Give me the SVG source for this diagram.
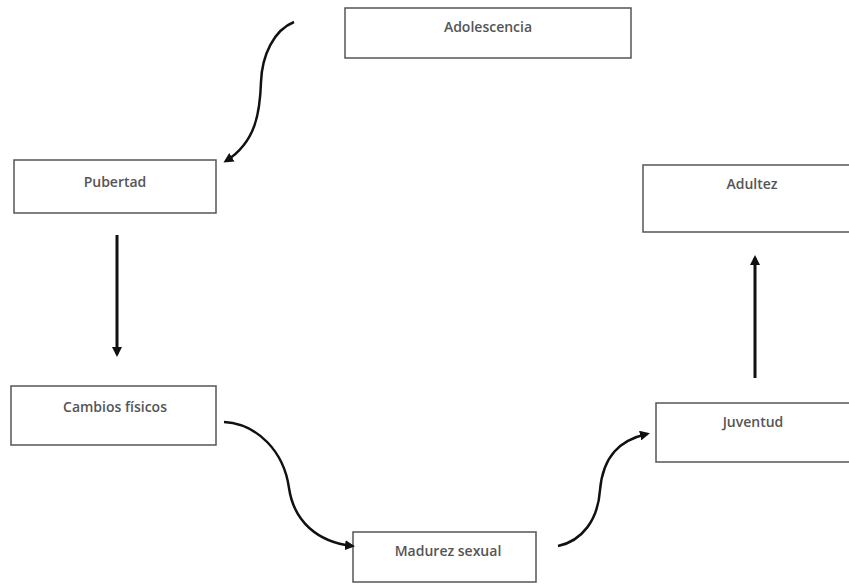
<svg xmlns="http://www.w3.org/2000/svg" width="849" height="584" viewBox="0 0 849 584">
<style>
.box{fill:#fff;stroke:#555;stroke-width:1.5}
.lbl{font-family:"Open Sans","Noto Sans",sans-serif;font-size:14px;font-weight:600;fill:#555;text-anchor:middle}
.con{fill:none;stroke:#111;stroke-width:2.5}
.str{stroke-width:3}
</style>
<defs>
<marker id="ah" markerWidth="10" markerHeight="10" refX="7" refY="5" orient="auto" markerUnits="userSpaceOnUse">
<path d="M0,0 L10,5 L0,10 z" fill="#111"/>
</marker>
</defs>
<rect width="849" height="584" fill="#fff"/>
<g id="adolescencia"><rect class="box" x="345" y="8" width="286" height="50"/><text class="lbl" x="488" y="32">Adolescencia</text></g>
<g id="pubertad"><rect class="box" x="14" y="160" width="202" height="53"/><text class="lbl" x="115" y="187">Pubertad</text></g>
<g id="cambios"><rect class="box" x="11" y="386" width="205" height="59"/><text class="lbl" x="115" y="412">Cambios físicos</text></g>
<g id="madurez"><rect class="box" x="353" y="532" width="183" height="50"/><text class="lbl" x="448" y="556">Madurez sexual</text></g>
<g id="juventud"><rect class="box" x="656" y="403" width="196" height="59"/><text class="lbl" x="753" y="427">Juventud</text></g>
<g id="adultez"><rect class="box" x="643" y="165" width="209" height="67"/><text class="lbl" x="752" y="189">Adultez</text></g>
<g id="connectors">
<path class="con" d="M294,22 C274,30 262,55 261,82 C260,112 256,142 226,161" marker-end="url(#ah)"/>
<path class="con str" d="M117,235 L117,354" marker-end="url(#ah)"/>
<path class="con" d="M224,422 C258,424 284,452 289,488 C294,522 318,542 352,546" marker-end="url(#ah)"/>
<path class="con" d="M558,546 C582,541 598,520 600,490 C603,456 620,440 647,434" marker-end="url(#ah)"/>
<path class="con str" d="M755,378 L755,258" marker-end="url(#ah)"/>
</g>
</svg>
